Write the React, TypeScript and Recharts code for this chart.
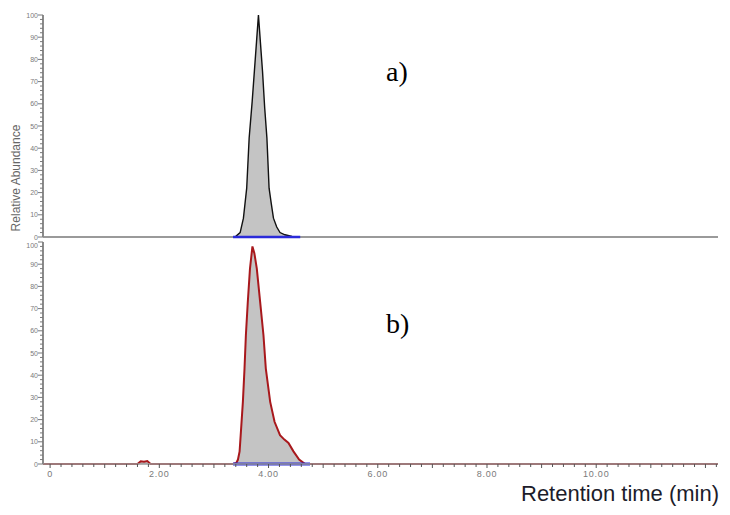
import React from "react";
import { ComposedChart, Area, Line, XAxis, YAxis, ReferenceLine } from "recharts";

// Panel a) chromatogram (retention time in min, relative abundance %)
const topTime = [3.3, 3.4, 3.48, 3.54, 3.6, 3.645, 3.7, 3.74, 3.78, 3.815, 3.85, 3.89, 3.93, 3.97, 4.01, 4.05, 4.09, 4.15, 4.21, 4.3, 4.43, 4.55];
const topAbund = [0, 0.3, 2, 8.5, 22, 44.6, 61, 74.5, 88, 100, 88, 74.5, 58, 44.6, 22, 15, 8.5, 4.5, 2, 1, 0.3, 0];

// Panel b) chromatogram
const botTime = [-0.13, 1.6, 1.66, 1.72, 1.78, 1.84, 3.35, 3.41, 3.44, 3.47, 3.49, 3.53, 3.56, 3.585, 3.62, 3.66, 3.705, 3.74, 3.785, 3.846, 3.907, 3.95, 4.03, 4.11, 4.21, 4.29, 4.365, 4.456, 4.56, 4.67, 12.23];
const botAbund = [0, 0, 1.2, 1.0, 1.3, 0, 0, 0.5, 2, 5.7, 13, 28, 43, 58, 73, 88, 98, 95, 88, 73, 58, 43, 28, 19, 13, 11, 9.5, 5.7, 2, 0, 0];

// Integration baselines (blue)
const topBaseTime = [3.35, 4.58];
const botBaseTime = [3.35, 4.76];

// Axis ticks
const yMajorLabels = [0, 10, 20, 30, 40, 50, 60, 70, 80, 90, 100];
const xMajorLabels = [0, 2, 4, 6, 8, 10];
const yTicks = Array.from({ length: 51 }, (_, i) => i * 2);
const xTicks = Array.from({ length: 62 }, (_, i) => Math.round(i * 2) / 10);

const X_DOMAIN: [number, number] = [-0.13, 12.23];

const topData = topTime.map((t, i) => ({ t, v: topAbund[i] }));
const botData = botTime.map((t, i) => ({ t, v: botAbund[i] }));
const topBase = topBaseTime.map((t) => ({ t, v: 0 }));
const botBase = botBaseTime.map((t) => ({ t, v: 0 }));

const tickColor = "#7a7a7a";

function YTick(props: any) {
  const { x, y, payload, lower } = props;
  const v = payload.value;
  const major = yMajorLabels.includes(v);
  const shift = lower && v === 100 ? 3 : 0;
  return (
    <g>
      <line x1={x - (major ? 5 : 3)} x2={x} y1={y} y2={y} stroke={tickColor} strokeWidth={1} />
      {major && (
        <text x={x - 5} y={y + shift} dy={2.5} textAnchor="end" fontSize={7} fill={tickColor} fontFamily="Arial, Liberation Sans, sans-serif">
          {v}
        </text>
      )}
    </g>
  );
}

function XTick(props: any) {
  const { x, y, payload } = props;
  const v = payload.value;
  const major = xMajorLabels.some((m) => Math.abs(m - v) < 1e-6);
  const unit = Math.abs(v - Math.round(v)) < 1e-6;
  return (
    <g>
      <line x1={x} x2={x} y1={y} y2={y + (unit ? 4 : 3)} stroke="#555" strokeWidth={1} />
      {major && (
        <text x={x} y={y + 13} textAnchor="middle" fontSize={9} letterSpacing={0.8} fill={tickColor} fontFamily="Arial, Liberation Sans, sans-serif">
          {v === 0 ? "0" : v.toFixed(2)}
        </text>
      )}
    </g>
  );
}

export default function App() {
  return (
    <div style={{ position: "absolute", left: 0, top: 0, width: 730, height: 515, background: "#fff", overflow: "hidden" }}>
      <div style={{ position: "absolute", left: 0, top: 0 }}>
        <ComposedChart width={730} height={240} margin={{ top: 15, right: 12, bottom: 3, left: 0 }}>
          <XAxis type="number" dataKey="t" domain={X_DOMAIN} allowDataOverflow hide />
          <YAxis
            type="number"
            domain={[0, 100]}
            ticks={yTicks}
            interval={0}
            width={43}
            tickSize={0}
            tickMargin={0}
            tickLine={false}
            tick={<YTick />}
            axisLine={{ stroke: "#8a8a8a", strokeWidth: 2 }}
          />
          <ReferenceLine y={0} stroke="#9a9a9a" strokeWidth={2} />
          <Area data={topData} dataKey="v" type="linear" stroke="#111" strokeWidth={1.4} fill="#c4c4c4" fillOpacity={1} dot={false} activeDot={false} isAnimationActive={false} />
          <Line data={topBase} dataKey="v" type="linear" stroke="#2b2bd9" strokeWidth={2.5} dot={false} activeDot={false} isAnimationActive={false} />
        </ComposedChart>
      </div>
      <div style={{ position: "absolute", left: 0, top: 240 }}>
        <ComposedChart width={730} height={275} margin={{ top: 2, right: 12, bottom: 31, left: 0 }}>
          <XAxis
            type="number"
            dataKey="t"
            domain={X_DOMAIN}
            allowDataOverflow
            ticks={xTicks}
            interval={0}
            height={20}
            tickSize={0}
            tickMargin={0}
            tickLine={false}
            tick={<XTick />}
            axisLine={{ stroke: "#9a9a9a", strokeWidth: 1.5 }}
          />
          <YAxis
            type="number"
            domain={[0, 100]}
            ticks={yTicks}
            interval={0}
            width={43}
            tickSize={0}
            tickMargin={0}
            tickLine={false}
            tick={<YTick lower />}
            axisLine={{ stroke: "#8a8a8a", strokeWidth: 2 }}
          />
          <Area data={botData} dataKey="v" type="linear" stroke="#a8181c" strokeWidth={2} fill="#c4c4c4" fillOpacity={1} dot={false} activeDot={false} isAnimationActive={false} />
          <Line data={botBase} dataKey="v" type="linear" stroke="#2b2bd9" strokeWidth={3} dot={false} activeDot={false} isAnimationActive={false} />
        </ComposedChart>
      </div>
      <div
        style={{
          position: "absolute",
          left: 16,
          top: 178,
          transform: "translate(-50%, -50%) rotate(-90deg)",
          whiteSpace: "nowrap",
          fontFamily: "Arial, 'Liberation Sans', sans-serif",
          fontSize: 12,
          color: "#666",
        }}
      >
        Relative Abundance
      </div>
      <div style={{ position: "absolute", left: 386, top: 58, fontFamily: "'Liberation Serif', 'Times New Roman', serif", fontSize: 28, color: "#000", lineHeight: 1 }}>a)</div>
      <div style={{ position: "absolute", left: 386, top: 310, fontFamily: "'Liberation Serif', 'Times New Roman', serif", fontSize: 28, color: "#000", lineHeight: 1 }}>b)</div>
      <div style={{ position: "absolute", left: 521, top: 483, fontFamily: "Arial, 'Liberation Sans', sans-serif", fontSize: 22, color: "#1c1c2a", lineHeight: 1, whiteSpace: "nowrap" }}>
        Retention time (min)
      </div>
    </div>
  );
}
